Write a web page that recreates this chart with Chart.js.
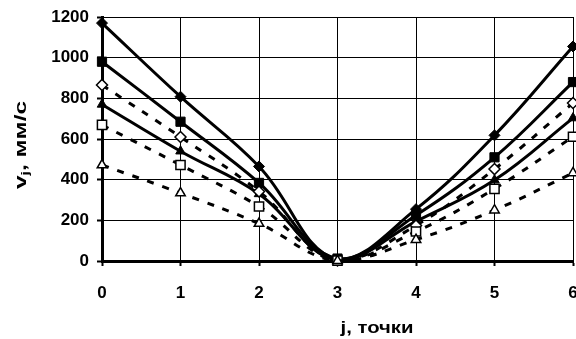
<!DOCTYPE html>
<html>
<head>
<meta charset="utf-8">
<script src="https://cdn.jsdelivr.net/npm/chart.js@4/dist/chart.umd.min.js"></script>
<style>
html,body{margin:0;padding:0;background:#fff;}
#wrap{width:576px;height:339px;position:relative;}
</style>
</head>
<body>
<div id="wrap"><canvas id="c" width="576" height="339"></canvas></div>
<script>
const categories = ['0','1','2','3','4','5','6'];
const yTicks = [0,200,400,600,800,1000,1200];
const seriesDiamond = [1170, 808, 465, 5, 255, 618, 1055];
const seriesSquare = [980, 685, 384, 12, 225, 510, 880];
const seriesTriangle = [770, 540, 330, 3, 195, 398, 703];
const seriesDiamondOpen = [866, 610, 342, 3, 175, 452, 777];
const seriesSquareOpen = [669, 472, 268, 2, 145, 355, 611];
const seriesTriangleOpen = [472, 334, 184, 1, 105, 250, 433];
const xTitle = 'j, точки';
const yTitleMain = 'v';
const yTitleSub = 'j';
const yTitleRest = ', мм/с';

function solid(data, style, r){
  return {data, borderColor:'#000', borderWidth:3, tension:0.4, clip:false,
    pointStyle:style, pointRadius:r, pointBackgroundColor:'#000', pointBorderColor:'#000', pointBorderWidth:1};
}
function dashed(data, style, r){
  return {data, borderColor:'#000', borderWidth:3, borderDash:[7,9], tension:0.4, clip:false,
    pointStyle:style, pointRadius:r, pointBackgroundColor:'#fff', pointBorderColor:'#000', pointBorderWidth:1.5};
}

const titles = {
  id:'titles',
  afterDraw(chart){
    const ctx = chart.ctx;
    ctx.save();
    ctx.fillStyle = '#000';
    ctx.textBaseline = 'middle';
    ctx.textAlign = 'center';
    ctx.font = 'bold 17px "Liberation Sans", Arial, sans-serif';
    const xw = ctx.measureText(xTitle).width;
    ctx.save();
    ctx.translate(377, 328);
    ctx.scale(73 / xw, 1);
    ctx.fillText(xTitle, 0, 0);
    ctx.restore();
    const big = 'bold 17px "Liberation Sans", Arial, sans-serif';
    const small = 'bold 11px "Liberation Sans", Arial, sans-serif';
    ctx.font = big; const w1 = ctx.measureText(yTitleMain).width;
    const w3 = ctx.measureText(yTitleRest).width;
    ctx.font = small; const w2 = ctx.measureText(yTitleSub).width;
    const total = w1 + w2 + w3;
    ctx.translate(20, 145);
    ctx.rotate(-Math.PI/2);
    ctx.scale(88 / total, 1);
    ctx.textAlign = 'left';
    ctx.textBaseline = 'alphabetic';
    let x = -total/2;
    ctx.font = big; ctx.fillText(yTitleMain, x, 6); x += w1;
    ctx.font = small; ctx.fillText(yTitleSub, x, 9); x += w2;
    ctx.font = big; ctx.fillText(yTitleRest, x, 6);
    ctx.restore();
  }
};

new Chart(document.getElementById('c'), {
  type:'line',
  data:{
    labels:categories,
    datasets:[
      dashed(seriesTriangleOpen,'triangle',5.5),
      dashed(seriesSquareOpen,'rect',6.5),
      dashed(seriesDiamondOpen,'rectRot',5.5),
      solid(seriesTriangle,'triangle',5.5),
      solid(seriesSquare,'rect',6.5),
      solid(seriesDiamond,'rectRot',5.5)
    ]
  },
  options:{
    responsive:false,
    animation:false,
    devicePixelRatio:1,
    layout:{autoPadding:false,padding:{top:17,right:3,left:0,bottom:0}},
    plugins:{legend:{display:false},tooltip:{enabled:false}},
    scales:{
      x:{
        type:'category',
        offset:false,
        grid:{color:'#000',lineWidth:1,tickLength:5,tickWidth:2,tickColor:'#000'},
        border:{color:'#000',width:3},
        ticks:{color:'#000',font:{family:'"Liberation Sans", Arial, sans-serif',size:17,weight:'bold'},padding:17,maxRotation:0,autoSkip:false},
        afterFit(s){s.height=78;s.paddingLeft=0;s.paddingRight=0;}
      },
      y:{
        min:0,max:1200,
        afterBuildTicks(s){s.ticks = yTicks.map(v=>({value:v}));},
        grid:{color:'#000',lineWidth:1,tickLength:5,tickWidth:2,tickColor:'#000'},
        border:{color:'#000',width:3},
        ticks:{color:'#000',font:{family:'"Liberation Sans", Arial, sans-serif',size:17,weight:'bold'},padding:8,
          callback:(v)=>String(v)},
        afterFit(s){s.width=102;s.paddingTop=0;s.paddingBottom=0;}
      }
    }
  },
  plugins:[titles]
});
</script>
</body>
</html>
